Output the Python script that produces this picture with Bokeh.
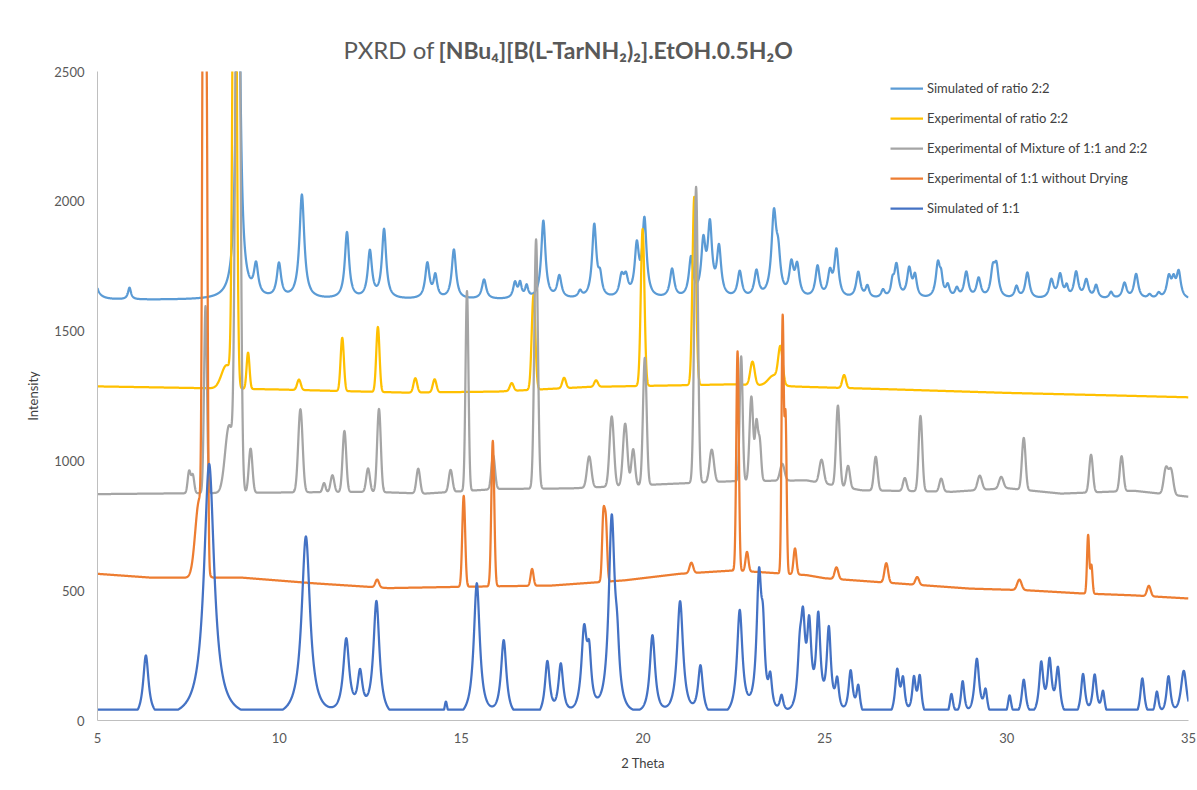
import numpy as np
from bokeh.plotting import figure
from bokeh.layouts import column
from bokeh.models import Legend, LegendItem, FixedTicker, Range1d
from bokeh.core.properties import value
from bokeh.embed import file_html
from bokeh.resources import INLINE

# ---------------------------------------------------------------------------
# Peak tables (2-theta position, intensity, half width) for each pattern
# ---------------------------------------------------------------------------

# Simulated pattern of the 1:1 phase (Lorentzian peaks, flat floor)
sim11_floor = 42
sim11_pos = [6.33, 8.07, 10.73, 11.84, 12.22, 12.67, 14.58, 15.43, 16.17, 17.37,
             17.74, 18.38, 18.52, 19.14, 19.29, 20.26, 21.02, 21.58, 22.66, 23.19,
             23.30, 23.50, 23.81, 24.31, 24.40, 24.57, 24.82, 25.11, 25.34, 25.71,
             25.92, 26.99, 27.15, 27.45, 27.61, 28.48, 28.79, 29.18, 29.42, 30.08,
             30.47, 30.95, 31.18, 31.41, 32.10, 32.42, 32.65, 33.73, 34.13, 34.45,
             34.87]
sim11_int = [240, 985, 700, 290, 150, 445, 60, 520, 295, 210,
             195, 310, 190, 750, 170, 310, 445, 190, 405, 510,
             240, 120, 65, 190, 300, 310, 360, 320, 120, 170,
             110, 175, 130, 140, 150, 90, 135, 225, 95, 85,
             145, 200, 205, 180, 165, 160, 95, 155, 95, 155,
             185]
sim11_hw = [0.09, 0.17, 0.14, 0.10, 0.08, 0.10, 0.05, 0.10, 0.09, 0.08,
            0.08, 0.09, 0.07, 0.10, 0.07, 0.09, 0.10, 0.08, 0.09, 0.08,
            0.06, 0.06, 0.06, 0.07, 0.07, 0.07, 0.07, 0.07, 0.06, 0.07,
            0.06, 0.07, 0.06, 0.06, 0.06, 0.06, 0.06, 0.08, 0.06, 0.06,
            0.07, 0.07, 0.07, 0.07, 0.07, 0.07, 0.06, 0.07, 0.06, 0.07,
            0.10]

# Simulated pattern of the 2:2 phase (Lorentzian peaks on an offset)
sim22_base = 1620
sim22_pos = [4.85, 5.88, 8.87, 9.36, 9.99, 10.62, 11.86, 12.49, 12.88, 14.07,
             14.29, 14.80, 15.63, 16.48, 16.62, 16.80, 17.26, 17.70, 18.27, 18.66,
             18.82, 19.41, 19.53, 19.83, 20.04, 20.80, 21.32, 21.66, 21.84, 22.09,
             22.66, 23.12, 23.60, 23.72, 24.08, 24.24, 24.80, 25.14, 25.32, 25.92,
             26.17, 26.60, 26.86, 26.97, 27.32, 27.48, 28.11, 28.20, 28.38, 28.63,
             28.89, 29.23, 29.62, 29.72, 30.27, 30.57, 31.23, 31.47, 31.65, 31.91,
             32.19, 32.46, 32.87, 33.24, 33.56, 33.93, 34.18, 34.46, 34.59, 34.73]
sim22_int = [200, 45, 1500, 115, 130, 400, 255, 180, 265, 135,
             85, 190, 75, 60, 55, 45, 300, 85, 25, 280,
             70, 75, 70, 190, 295, 110, 150, 200, 265, 185,
             100, 100, 310, 130, 120, 115, 120, 90, 180, 100,
             45, 30, 50, 125, 110, 80, 130, 60, 45, 35,
             100, 75, 100, 110, 45, 100, 70, 90, 40, 100,
             70, 50, 25, 60, 95, 15, 20, 80, 60, 100]
sim22_hw = [0.08, 0.05, 0.07, 0.07, 0.07, 0.08, 0.07, 0.07, 0.07, 0.07,
            0.06, 0.07, 0.07, 0.06, 0.05, 0.05, 0.07, 0.07, 0.06, 0.07,
            0.06, 0.07, 0.07, 0.07, 0.07, 0.07, 0.07, 0.07, 0.07, 0.07,
            0.07, 0.07, 0.08, 0.07, 0.07, 0.07, 0.07, 0.07, 0.07, 0.07,
            0.06, 0.06, 0.05, 0.07, 0.07, 0.06, 0.07, 0.05, 0.06, 0.06,
            0.07, 0.07, 0.07, 0.07, 0.06, 0.07, 0.07, 0.07, 0.05, 0.07,
            0.07, 0.06, 0.06, 0.07, 0.07, 0.06, 0.06, 0.07, 0.06, 0.07]

# Experimental pattern, ratio 2:2 (Gaussian peaks on a drifting background)
exp22_bg_x = [5, 8, 10, 13.5, 16, 18.5, 20.5, 22.5, 24.5, 27, 30, 33, 35]
exp22_bg_y = [1287, 1280, 1275, 1263, 1267, 1285, 1290, 1295, 1285, 1275, 1262, 1252, 1245]
exp22_pos = [8.55, 8.77, 9.14, 10.54, 11.73, 12.71, 13.74, 14.27, 16.39, 16.99,
             17.83, 18.71, 19.99, 21.41, 23.01, 23.60, 23.78, 25.53]
exp22_int = [90, 2600, 140, 40, 205, 250, 55, 50, 30, 365,
             40, 25, 605, 725, 90, 40, 135, 50]
exp22_sd = [0.14, 0.05, 0.04, 0.05, 0.045, 0.045, 0.05, 0.05, 0.05, 0.05,
            0.05, 0.05, 0.05, 0.05, 0.06, 0.15, 0.06, 0.05]

# Experimental pattern, mixture of 1:1 and 2:2
mix_bg_x = [5, 8, 12.5, 14, 16, 18, 20.5, 22.5, 24.5, 26, 28.5, 30, 31.5, 33.5, 35]
mix_bg_y = [872, 876, 881, 874, 892, 894, 910, 922, 925, 887, 881, 895, 874, 885, 862]
mix_pos = [7.52, 7.62, 7.97, 8.62, 8.86, 9.21, 10.58, 11.23, 11.46, 11.79,
           12.44, 12.74, 13.82, 14.71, 15.16, 15.88, 17.06, 18.52, 19.14, 19.51,
           19.73, 20.05, 21.46, 21.89, 22.70, 22.98, 23.12, 23.21, 23.83, 24.91,
           25.36, 25.64, 26.40, 27.20, 27.63, 28.20, 29.26, 29.85, 30.47, 32.32,
           33.16, 34.38, 34.52]
mix_int = [85, 70, 720, 260, 3000, 170, 320, 35, 65, 235,
           90, 320, 95, 85, 770, 130, 960, 120, 270, 240,
           140, 490, 1140, 125, 480, 325, 220, 150, 65, 90,
           310, 85, 130, 50, 290, 50, 55, 45, 200, 145,
           135, 100, 95]
mix_sd = [0.04, 0.04, 0.04, 0.11, 0.06, 0.05, 0.06, 0.04, 0.05, 0.05,
          0.05, 0.05, 0.05, 0.05, 0.04, 0.05, 0.05, 0.06, 0.06, 0.06,
          0.05, 0.05, 0.05, 0.06, 0.04, 0.05, 0.04, 0.04, 0.06, 0.06,
          0.05, 0.05, 0.05, 0.05, 0.05, 0.05, 0.06, 0.06, 0.05, 0.05,
          0.05, 0.06, 0.06]

# Experimental pattern, 1:1 without drying
exp11_bg_x = [5, 6.5, 9, 11, 13, 15, 17.5, 19.5, 21, 22.5, 24.5, 25, 27, 29, 30.5, 32, 33.5, 35]
exp11_bg_y = [565, 550, 550, 528, 510, 515, 520, 540, 565, 578, 560, 548, 528, 508, 502, 490, 482, 470]
exp11_pos = [7.80, 7.92, 8.00, 12.69, 15.07, 15.87, 16.95, 18.91, 18.98, 21.33,
             22.60, 22.86, 23.84, 23.92, 24.18, 25.32, 26.69, 27.54, 30.35, 32.24,
             32.33, 33.91]
exp11_int = [300, 3000, 1750, 30, 350, 560, 65, 250, 220, 40,
             845, 75, 980, 600, 100, 45, 75, 30, 40, 225,
             110, 40]
exp11_sd = [0.11, 0.035, 0.03, 0.05, 0.04, 0.04, 0.04, 0.035, 0.035, 0.05,
            0.035, 0.04, 0.03, 0.03, 0.04, 0.05, 0.05, 0.05, 0.06, 0.03,
            0.03, 0.05]

series_names = ["Simulated of ratio 2:2", "Experimental of ratio 2:2",
                "Experimental of Mixture of 1:1 and 2:2",
                "Experimental of 1:1 without Drying", "Simulated of 1:1"]
series_colors = ["#5B9BD5", "#FFC000", "#A5A5A5", "#ED7D31", "#4472C4"]
x_ticks = [5, 10, 15, 20, 25, 30, 35]
y_ticks = [0, 500, 1000, 1500, 2000, 2500]

# ---------------------------------------------------------------------------
# Profiles
# ---------------------------------------------------------------------------
two_theta = np.linspace(5.0, 35.0, 6001)


def lorentz_profile(x, pos, inten, hw):
    y = np.zeros_like(x)
    for p, h, w in zip(pos, inten, hw):
        y += h * w * w / ((x - p) ** 2 + w * w)
    return y


def gauss_profile(x, pos, inten, sd):
    y = np.zeros_like(x)
    for p, h, s in zip(pos, inten, sd):
        y += h * np.exp(-0.5 * ((x - p) / s) ** 2)
    return y


curves = [
    sim22_base + lorentz_profile(two_theta, sim22_pos, sim22_int, sim22_hw),
    np.interp(two_theta, exp22_bg_x, exp22_bg_y) + gauss_profile(two_theta, exp22_pos, exp22_int, exp22_sd),
    np.interp(two_theta, mix_bg_x, mix_bg_y) + gauss_profile(two_theta, mix_pos, mix_int, mix_sd),
    np.interp(two_theta, exp11_bg_x, exp11_bg_y) + gauss_profile(two_theta, exp11_pos, exp11_int, exp11_sd),
    np.maximum(sim11_floor, lorentz_profile(two_theta, sim11_pos, sim11_int, sim11_hw)),
]

FONT = "Lato"
TXT = "#595959"
W = 1197
H = 790
TITLE_H = 63
LEFT, RIGHT, BOTTOM = 97, 9, 70
PX_PER_DEG = (W - LEFT - RIGHT) / 30.0

# ---------------------------------------------------------------------------
# Title strip (same horizontal frame as the chart below): plain prefix, bold formula
# ---------------------------------------------------------------------------
head = figure(width=W, height=TITLE_H, output_backend="svg", toolbar_location=None,
              title=None, x_range=Range1d(5, 35), y_range=Range1d(0, TITLE_H),
              min_border_left=LEFT, min_border_right=RIGHT, min_border_top=0, min_border_bottom=0,
              x_axis_type=None, y_axis_type=None)
head.outline_line_color = None
head.xgrid.grid_line_color = None
head.ygrid.grid_line_color = None
split = 5 + (436 - LEFT) / PX_PER_DEG
gap = 2 / PX_PER_DEG
base_y = TITLE_H - 49
head.text(x=[split - gap], y=[base_y], text=["PXRD of"], text_align="right", text_baseline="alphabetic",
          text_font=value(FONT), text_font_size="24px", text_color=TXT)
head.text(x=[split + gap], y=[base_y], text=["[NBu\u2084][B(L-TarNH\u2082)\u2082].EtOH.0.5H\u2082O"],
          text_align="left", text_baseline="alphabetic", text_font=value(FONT),
          text_font_size="23px", text_font_style="bold", text_color=TXT)

# ---------------------------------------------------------------------------
# Diffraction patterns
# ---------------------------------------------------------------------------
p = figure(width=W, height=H - TITLE_H, output_backend="svg", toolbar_location=None,
           x_range=Range1d(5, 35), y_range=Range1d(0, 2500),
           min_border_left=LEFT, min_border_right=RIGHT, min_border_top=71 - TITLE_H,
           min_border_bottom=BOTTOM)
p.outline_line_color = None
p.xgrid.grid_line_color = None
p.ygrid.grid_line_color = None

for ax in (p.xaxis[0], p.yaxis[0]):
    ax.axis_line_color = "#BFBFBF"
    ax.axis_line_width = 1
    ax.major_tick_line_color = None
    ax.minor_tick_line_color = None
    ax.major_tick_in = 0
    ax.major_tick_out = 0
    ax.major_label_text_font = FONT
    ax.major_label_text_font_size = "13px"
    ax.major_label_text_color = TXT
    ax.axis_label_text_font = FONT
    ax.axis_label_text_font_size = "13px"
    ax.axis_label_text_font_style = "normal"
    ax.axis_label_text_color = "#404040"

p.xaxis[0].ticker = FixedTicker(ticks=x_ticks)
p.yaxis[0].ticker = FixedTicker(ticks=y_ticks)
p.xaxis[0].axis_label = "2 Theta"
p.yaxis[0].axis_label = "Intensity"
p.xaxis[0].major_label_standoff = 12
p.yaxis[0].major_label_standoff = 13
p.xaxis[0].axis_label_standoff = 9
p.yaxis[0].axis_label_standoff = 10

renderers = []
for y, c in zip(curves, series_colors):
    r = p.line(two_theta, y, line_color=c, line_width=2.25, line_join="round")
    renderers.append(r)

legend = Legend(items=[LegendItem(label=n, renderers=[r]) for n, r in zip(series_names, renderers)],
                location=(890 - LEFT, 720 - 218), orientation="vertical",
                glyph_width=33, glyph_height=20, label_height=20, spacing=10,
                label_standoff=4, padding=0, margin=0,
                label_text_font=FONT, label_text_font_size="13px", label_text_color="#404040",
                background_fill_alpha=0, border_line_color=None)
p.add_layout(legend)

layout = column(head, p, spacing=0)
open("out.html", "w").write(file_html(layout, INLINE))
